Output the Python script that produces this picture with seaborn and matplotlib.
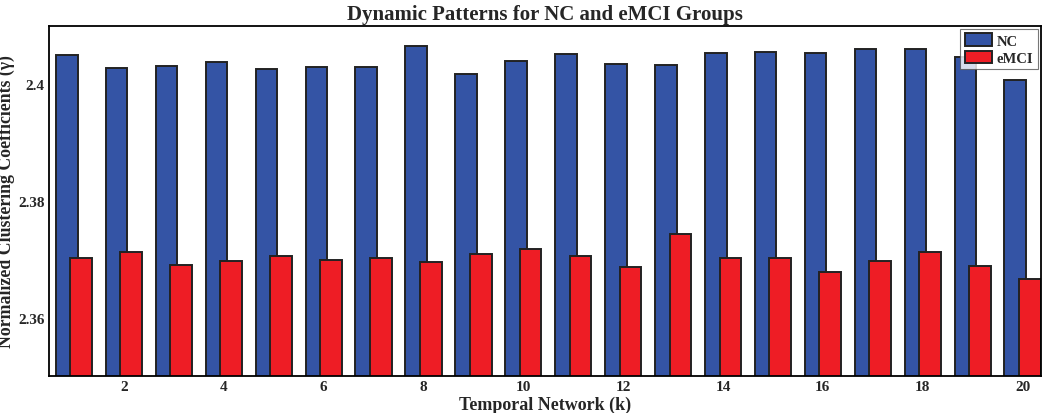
import pandas as pd
import matplotlib
matplotlib.use("Agg")
import matplotlib.pyplot as plt
import seaborn as sns

# values
networks = list(range(1, 21))
nc_values = [2.4050, 2.4028, 2.4031, 2.4039, 2.4027, 2.4030, 2.4029, 2.4066, 2.4018, 2.4040,
             2.4052, 2.4035, 2.4033, 2.4053, 2.4055, 2.4053, 2.4060, 2.4060, 2.4047, 2.4008]
emci_values = [2.3702, 2.3712, 2.3691, 2.3697, 2.3705, 2.3699, 2.3702, 2.3695, 2.3709, 2.3717,
               2.3705, 2.3686, 2.3743, 2.3703, 2.3703, 2.3678, 2.3697, 2.3713, 2.3688, 2.3667]
groups = ["NC", "eMCI"]
y_ticks = [2.36, 2.38, 2.4]
y_tick_labels = ["2.36", "2.38", "2.4"]
x_ticks = list(range(2, 21, 2))

df = pd.DataFrame({
	"k": networks * 2,
	"value": nc_values + emci_values,
	"group": ["NC"] * len(networks) + ["eMCI"] * len(networks),
})

sns.set_style("white")
plt.rcParams["font.family"] = ["Liberation Serif", "DejaVu Serif"]
plt.rcParams["font.weight"] = "bold"

fig = plt.figure(figsize=(10.5, 4.14), dpi=100)
ax = fig.add_axes([0.0467, 0.0894, 0.9443, 0.8454])

# negative gap makes the two bars of a group overlap, eMCI drawn on top
sns.barplot(data=df, x="k", y="value", hue="group", hue_order=groups,
			palette={"NC": "#3454a5", "eMCI": "#ee1d25"},
			native_scale=True, width=0.585, gap=-0.48,
			edgecolor="#222222", linewidth=1.4, saturation=1, errorbar=None, ax=ax)

ax.set_ylim(2.35, 2.41)
ax.set_xlim(0.5, 20.36)
ax.set_yticks(y_ticks)
ax.set_yticklabels(y_tick_labels)
ax.set_xticks(x_ticks)
ax.set_xticklabels([str(t) for t in x_ticks])
ax.tick_params(axis="both", labelsize=11, direction="in", length=3, width=1)
ax.tick_params(axis="y", pad=3)
ax.tick_params(axis="x", pad=3)
for lbl in ax.get_xticklabels() + ax.get_yticklabels():
	lbl.set_fontweight("bold")

for side in ["left", "right", "top", "bottom"]:
	ax.spines[side].set_visible(True)
	ax.spines[side].set_color("black")
	ax.spines[side].set_linewidth(1.3)

ax.set_title("Dynamic Patterns for NC and eMCI Groups", fontsize=15, fontweight="bold", pad=5)
ax.set_xlabel("Temporal Network (k)", fontsize=13, fontweight="bold")
ax.set_ylabel("Normalized Clustering Coefficients (\u03b3)", fontsize=12.8, fontweight="bold")
ax.yaxis.set_label_coords(-0.034, 0.5)
ax.xaxis.set_label_coords(0.5, -0.056)

leg = ax.legend(loc="upper right", fontsize=10.5, frameon=True, fancybox=False,
				borderaxespad=0.2, handlelength=1.9, handleheight=0.95,
				handletextpad=0.3, borderpad=0.3, labelspacing=0.2)
leg.get_frame().set_edgecolor("#555555")
leg.get_frame().set_linewidth(0.8)
for t in leg.get_texts():
	t.set_fontweight("bold")

fig.savefig("out.png", dpi=100)
